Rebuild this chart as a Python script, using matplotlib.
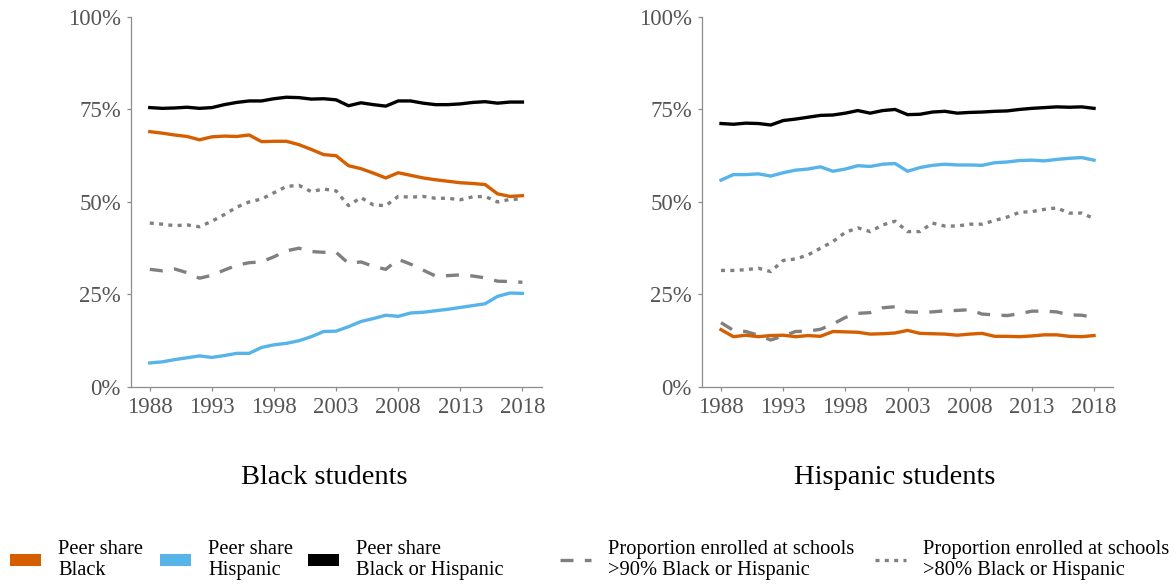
import numpy as np
import matplotlib
matplotlib.use("Agg")
import matplotlib.pyplot as plt
from matplotlib.patches import Patch
from matplotlib.lines import Line2D
from matplotlib.ticker import FuncFormatter

plt.rcParams['font.family'] = ['Liberation Serif', 'DejaVu Serif']

years = np.arange(1988, 2019)

# Black students panel
blk_share_black = [69.0, 68.6, 68.1, 67.7, 66.8, 67.6, 67.8, 67.7, 68.1, 66.3, 66.4, 66.4, 65.5, 64.2, 62.8, 62.5,
                   59.8, 59.0, 57.8, 56.5, 57.9, 57.2, 56.5, 56.0, 55.6, 55.2, 55.0, 54.7, 52.2, 51.5, 51.7]
blk_share_hisp = [6.5, 6.8, 7.4, 7.9, 8.4, 8.0, 8.5, 9.1, 9.1, 10.7, 11.4, 11.8, 12.5, 13.6, 15.0, 15.1,
                  16.3, 17.7, 18.5, 19.4, 19.1, 20.0, 20.2, 20.6, 21.0, 21.5, 22.0, 22.5, 24.5, 25.4, 25.3]
blk_share_both = [75.5, 75.3, 75.4, 75.6, 75.3, 75.5, 76.3, 76.9, 77.3, 77.3, 77.9, 78.3, 78.2, 77.8, 77.9, 77.6,
                  76.0, 76.8, 76.3, 75.9, 77.3, 77.3, 76.7, 76.3, 76.3, 76.5, 76.9, 77.1, 76.7, 77.0, 77.0]
blk_over90 = [31.8, 31.4, 31.9, 30.9, 29.4, 30.2, 31.6, 32.9, 33.6, 33.8, 35.2, 36.8, 37.5, 36.6, 36.4, 36.4,
              33.4, 33.8, 32.6, 31.8, 34.5, 33.2, 31.6, 30.0, 30.1, 30.3, 30.0, 29.5, 28.6, 28.5, 28.3]
blk_over80 = [44.3, 44.0, 43.6, 43.8, 43.3, 44.8, 46.6, 48.6, 50.0, 50.8, 52.5, 54.2, 54.5, 52.8, 53.5, 53.0,
              49.0, 51.2, 49.2, 49.0, 51.5, 51.3, 51.5, 51.0, 51.0, 50.6, 51.4, 51.5, 50.0, 50.7, 50.8]

# Hispanic students panel
his_share_black = [15.5, 13.6, 14.0, 13.6, 13.9, 14.0, 13.6, 13.9, 13.7, 15.0, 14.9, 14.8, 14.3, 14.4, 14.6, 15.3,
                   14.5, 14.4, 14.3, 14.0, 14.3, 14.5, 13.7, 13.7, 13.6, 13.8, 14.1, 14.1, 13.7, 13.6, 13.9]
his_share_hisp = [55.9, 57.4, 57.4, 57.6, 57.0, 57.9, 58.6, 58.9, 59.5, 58.3, 58.9, 59.8, 59.6, 60.2, 60.4, 58.3,
                  59.3, 59.9, 60.2, 60.0, 60.0, 59.9, 60.6, 60.8, 61.2, 61.3, 61.1, 61.5, 61.8, 62.0, 61.3]
his_share_both = [71.2, 71.0, 71.3, 71.2, 70.8, 72.0, 72.4, 72.9, 73.4, 73.5, 74.0, 74.7, 74.0, 74.7, 75.0, 73.6,
                  73.7, 74.3, 74.5, 74.0, 74.2, 74.3, 74.5, 74.6, 75.0, 75.3, 75.5, 75.7, 75.6, 75.7, 75.3]
his_over90 = [17.4, 15.3, 15.0, 14.0, 12.7, 13.8, 15.0, 15.1, 15.6, 17.0, 18.8, 19.9, 20.1, 21.4, 21.7, 20.3,
              20.2, 20.3, 20.6, 20.7, 20.9, 19.7, 19.5, 19.3, 19.8, 20.5, 20.5, 20.3, 19.5, 19.4, 18.8]
his_over80 = [31.5, 31.5, 31.7, 32.1, 31.2, 34.2, 34.6, 35.7, 37.5, 39.3, 41.8, 43.0, 42.0, 43.8, 44.8, 42.0,
              42.0, 44.3, 43.5, 43.5, 44.0, 44.0, 45.0, 45.9, 47.2, 47.4, 48.0, 48.4, 47.0, 47.0, 45.5]

panel_titles = ["Black students", "Hispanic students"]
legend_labels = ["Peer share\nBlack", "Peer share\nHispanic", "Peer share\nBlack or Hispanic",
                 "Proportion enrolled at schools\n>90% Black or Hispanic",
                 "Proportion enrolled at schools\n>80% Black or Hispanic"]

ORANGE = '#D55E00'
BLUE = '#56B4E9'
GRAY = '#808080'
SPINE = '#8c8c8c'
TICKTXT = '#555555'
LW = 2.4
DASH = (3.9, 3.4)
DOT = (1.2, 1.6)

fig = plt.figure(figsize=(11.76, 5.84), dpi=100)
ax_l = fig.add_axes([0.111, 0.3373, 0.3496, 0.6337])
ax_r = fig.add_axes([0.5967, 0.3373, 0.35, 0.6337])

panels = [
    (ax_l, blk_share_black, blk_share_hisp, blk_share_both, blk_over90, blk_over80),
    (ax_r, his_share_black, his_share_hisp, his_share_both, his_over90, his_over80),
]

for ax, sb, sh, sbh, o90, o80 in panels:
    ax.plot(years, o90, color=GRAY, lw=LW, dashes=DASH)
    ax.plot(years, o80, color=GRAY, lw=LW, dashes=DOT)
    ax.plot(years, sbh, color='black', lw=LW, solid_joinstyle='round')
    ax.plot(years, sh, color=BLUE, lw=LW, solid_joinstyle='round')
    ax.plot(years, sb, color=ORANGE, lw=LW, solid_joinstyle='round')
    ax.set_xlim(1986.45, 2019.55)
    ax.set_ylim(0, 100)
    ax.set_xticks(np.arange(1988, 2019, 5))
    ax.set_yticks([0, 25, 50, 75, 100])
    ax.yaxis.set_major_formatter(FuncFormatter(lambda v, p: f"{int(v)}%"))
    for s in ['top', 'right']:
        ax.spines[s].set_visible(False)
    for s in ['left', 'bottom']:
        ax.spines[s].set_color(SPINE)
        ax.spines[s].set_linewidth(0.9)
    ax.tick_params(axis='both', direction='out', length=3, width=0.9, color=SPINE,
                   labelcolor=TICKTXT, labelsize=16.5, pad=4)

for ax, title in zip([ax_l, ax_r], panel_titles):
    box = ax.get_position()
    fig.text((box.x0 + box.x1) / 2 - 0.0105, 0.183, title, ha='center', va='center', fontsize=20.5)

handles = [
    Patch(facecolor=ORANGE, edgecolor='none'),
    Patch(facecolor=BLUE, edgecolor='none'),
    Patch(facecolor='black', edgecolor='none'),
    Line2D([], [], color=GRAY, lw=LW, dashes=DASH),
    Line2D([], [], color=GRAY, lw=LW, dashes=DOT),
]
starts = [10, 160, 308, 560, 875]
for h, lab, x0 in zip(handles, legend_labels, starts):
    leg = fig.legend([h], [lab], loc='center left', bbox_to_anchor=(x0 / 1176, 0.041),
                     frameon=False, fontsize=14.8, borderpad=0, borderaxespad=0,
                     handlelength=1.5, handleheight=0.5, handletextpad=0.85)
    for t in leg.get_texts():
        t.set_linespacing(1.17)

fig.savefig('out.png', dpi=100)
